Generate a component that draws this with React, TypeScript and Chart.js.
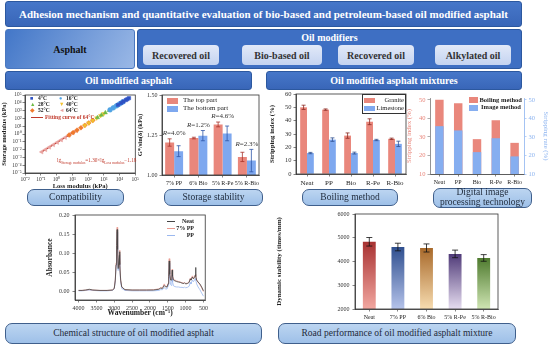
import React, { useEffect, useRef } from "react";
import { Chart, registerables } from "chart.js";
Chart.register(...registerables);

const SERIF = '"Liberation Serif", "Times New Roman", serif';
const RED = "#e9877c";
const BLUE = "#7ea8ef";

// ---------- Compatibility (log10 values) ----------
const tempLabels = ["4°C", "16°C", "28°C", "40°C", "52°C", "64°C"];
const lgLoss4C = [3.9, 4.1, 4.25, 4.4, 4.5, 4.6];
const lgStorage4C = [3.73, 3.97, 4.16, 4.35, 4.47, 4.6];
const lgLoss16C = [3.4, 3.6, 3.8, 4.0, 4.2];
const lgStorage16C = [3.1, 3.35, 3.6, 3.85, 4.1];
const lgLoss28C = [2.6, 2.85, 3.1, 3.35, 3.6, 3.8];
const lgStorage28C = [2.11, 2.42, 2.73, 3.04, 3.35, 3.6];
const lgLoss40C = [1.8, 2.05, 2.3, 2.55, 2.8, 3.0];
const lgStorage40C = [1.11, 1.42, 1.73, 2.05, 2.36, 2.61];
const lgLoss52C = [0.8, 1.05, 1.3, 1.55, 1.8, 2.05, 2.3];
const lgStorage52C = [-0.13, 0.18, 0.49, 0.8, 1.11, 1.42, 1.73];
const lgLoss64C = [-0.94, -0.7, -0.45, -0.2, 0.05, 0.3, 0.55, 0.8, 1.05, 1.25];
const lgStorage64C = [-2.3, -2.0, -1.69, -1.38, -1.07, -0.76, -0.45, -0.13, 0.18, 0.43];
const lgLossFit = [-1.0, 1.4];
const lgStorageFit = [-2.37, 0.62];
const lossDecades = [-2, -1, 0, 1, 2, 3, 4, 5];
const storageDecades = [-5, -4, -3, -2, -1, 0, 1, 2, 3, 4, 5];
const tempColors = ["#2f52c4", "#4fa3e6", "#6dbb45", "#f2c12e", "#f07a2c", "#e9a3a0"];
const tempStyles = ["rect", "circle", "triangle", "triangle", "rectRot", "triangle"];
const tempRot = [0, 0, 0, 180, 0, -90];

// ---------- Storage stability ----------
const stabilityCats = ["7% PP", "6% Bio", "5% R-Pe", "5% R-Bio"];
const topPart = [1.203, 1.231, 1.316, 1.113];
const topErr = [0.023, 0.005, 0.015, 0.029];
const bottomPart = [1.149, 1.246, 1.26, 1.09];
const bottomErr = [0.034, 0.032, 0.046, 0.07];
const segregation = ["4.0%", "1.2%", "4.6%", "2.3%"];
const stabilityTicks = [1.0, 1.25, 1.5];

// ---------- Boiling method ----------
const boilCats = ["Neat", "PP", "Bio", "R-Pe", "R-Bio"];
const granite = [50.0, 48.3, 28.8, 39.2, 26.4];
const graniteErr = [1.6, 0.5, 2.0, 2.2, 0.5];
const limestone = [15.7, 25.8, 15.7, 25.5, 22.6];
const limestoneErr = [0.5, 1.3, 0.7, 0.5, 2.0];
const boilTicks = [0, 10, 20, 30, 40, 50, 60];

// ---------- Digital image ----------
const boilingMethod = [50.0, 48.2, 28.8, 39.0, 26.8];
const imageMethod = [35.8, 33.5, 21.8, 29.3, 19.5];
const digitalTicks = [10, 20, 30, 40, 50];

// ---------- FTIR ----------
const wavenumber = [4000, 3900, 3800, 3700, 3600, 3400, 3200, 3050, 3000, 2970, 2950, 2935, 2920, 2905, 2890, 2870, 2855, 2850, 2840, 2820, 2790, 2700, 2500, 2300, 2100, 1900, 1750, 1700, 1650, 1600, 1560, 1520, 1490, 1475, 1460, 1445, 1420, 1400, 1385, 1376, 1365, 1340, 1300, 1250, 1200, 1150, 1100, 1050, 1030, 1000, 950, 900, 870, 850, 810, 780, 750, 730, 720, 710, 690, 650, 600, 550, 500];
const absNeat = [0.003, 0.003, 0.004, 0.006, 0.004, 0.003, 0.003, 0.004, 0.008, 0.03, 0.07, 0.12, 0.162, 0.11, 0.06, 0.06, 0.095, 0.104, 0.07, 0.03, 0.012, 0.005, 0.004, 0.004, 0.004, 0.004, 0.006, 0.009, 0.008, 0.016, 0.012, 0.012, 0.02, 0.04, 0.08, 0.045, 0.03, 0.03, 0.045, 0.056, 0.04, 0.03, 0.028, 0.026, 0.025, 0.024, 0.022, 0.021, 0.023, 0.02, 0.021, 0.024, 0.033, 0.03, 0.038, 0.033, 0.037, 0.042, 0.063, 0.04, 0.03, 0.025, 0.02, 0.012, 0.002];
const abs7PP = [0.003, 0.003, 0.004, 0.005, 0.004, 0.003, 0.003, 0.004, 0.009, 0.032, 0.075, 0.125, 0.168, 0.115, 0.065, 0.064, 0.1, 0.108, 0.072, 0.03, 0.012, 0.005, 0.004, 0.004, 0.004, 0.005, 0.007, 0.01, 0.01, 0.02, 0.014, 0.013, 0.022, 0.045, 0.086, 0.05, 0.032, 0.032, 0.048, 0.058, 0.042, 0.032, 0.03, 0.028, 0.026, 0.025, 0.023, 0.022, 0.024, 0.021, 0.022, 0.026, 0.035, 0.032, 0.041, 0.035, 0.04, 0.043, 0.045, 0.038, 0.03, 0.024, 0.018, 0.01, 0.0];
const absPP = [0.002, 0.002, 0.003, 0.004, 0.003, 0.002, 0.002, 0.003, 0.007, 0.028, 0.066, 0.115, 0.156, 0.1, 0.055, 0.055, 0.088, 0.097, 0.06, 0.025, 0.008, 0.003, 0.002, 0.002, 0.002, 0.002, 0.003, 0.005, 0.005, 0.01, 0.007, 0.007, 0.015, 0.035, 0.074, 0.035, 0.018, 0.016, 0.032, 0.042, 0.025, 0.015, 0.013, 0.012, 0.012, 0.011, 0.011, 0.01, 0.012, 0.01, 0.011, 0.014, 0.024, 0.02, 0.03, 0.026, 0.03, 0.033, 0.035, 0.03, 0.02, 0.012, 0.005, -0.004, -0.012];
const ftirXTicks = [4000, 3500, 3000, 2500, 2000, 1500, 1000, 500];
const ftirYTicks = [0.0, 0.05, 0.1, 0.15, 0.2];

// ---------- Dynamic stability ----------
const dynCats = ["Neat", "7% PP", "6% Bio", "5% R-Pe", "5% R-Bio"];
const dynStability = [4830, 4610, 4570, 4320, 4150];
const dynErr = [180, 160, 170, 160, 140];
const dynTicks = [2000, 3000, 4000, 5000, 6000];
const dynTopColors = ["#a83232", "#2f4f8f", "#a8692a", "#4f3a78", "#4e7a2e"];
const dynBottomColors = ["#f2a7a0", "#b5c3ea", "#f7dcb0", "#e6ddf0", "#cfe5b3"];

// ---------- helpers ----------
const SUP: Record<string, string> = { "-": "⁻", "0": "⁰", "1": "¹", "2": "²", "3": "³", "4": "⁴", "5": "⁵", "6": "⁶", "7": "⁷", "8": "⁸", "9": "⁹" };
const pow10Label = (v: number) => "10" + String(Math.round(Math.log10(v))).split("").map((c) => SUP[c] || c).join("");
const plain = (v: number) => String(v);
const tf = (size: number) => ({ family: SERIF, size });
const bf = (size: number) => ({ family: SERIF, size, weight: "bold" as const });
const gridTicks = { drawOnChartArea: false, drawTicks: true, tickLength: 2.5, color: "#333", lineWidth: 0.6 };
const border = { display: true, color: "#333", width: 0.8 };
const PADTOP = 9;

const framePlugin = {
  id: "frame",
  afterDraw(chart: any) {
    const { ctx, chartArea } = chart;
    const { left, top, right, bottom } = chartArea;
    ctx.save();
    ctx.strokeStyle = "#333";
    ctx.lineWidth = 0.8;
    ctx.strokeRect(left, top, right - left, bottom - top);
    ctx.restore();
  },
};

function errorBars(errs: (number[] | null)[], colors: string[], cap = 2) {
  return {
    id: "errbars",
    afterDatasetsDraw(chart: any) {
      const ctx = chart.ctx;
      errs.forEach((arr, di) => {
        if (!arr) return;
        const meta = chart.getDatasetMeta(di);
        const ys = chart.scales[meta.yAxisID];
        const data = chart.data.datasets[di].data;
        ctx.save();
        ctx.strokeStyle = colors[di];
        ctx.lineWidth = 0.8;
        meta.data.forEach((el: any, j: number) => {
          const v = data[j];
          const e = arr[j];
          const x = el.x;
          const y1 = ys.getPixelForValue(v + e);
          const y2 = ys.getPixelForValue(v - e);
          ctx.beginPath();
          ctx.moveTo(x, y1);
          ctx.lineTo(x, y2);
          ctx.moveTo(x - cap, y1);
          ctx.lineTo(x + cap, y1);
          ctx.moveTo(x - cap, y2);
          ctx.lineTo(x + cap, y2);
          ctx.stroke();
        });
        ctx.restore();
      });
    },
  };
}

const segregationLabels = {
  id: "segLabels",
  afterDatasetsDraw(chart: any) {
    const ctx = chart.ctx;
    const ys = chart.scales.y;
    const m0 = chart.getDatasetMeta(0);
    const m1 = chart.getDatasetMeta(1);
    ctx.save();
    ctx.fillStyle = "#333";
    ctx.textBaseline = "bottom";
    stabilityCats.forEach((_, j) => {
      const x = (m0.data[j].x + m1.data[j].x) / 2;
      const y = Math.min(ys.getPixelForValue(topPart[j] + topErr[j]), ys.getPixelForValue(bottomPart[j] + bottomErr[j])) - 2;
      const rest = "=" + segregation[j];
      ctx.font = `italic 7px ${SERIF}`;
      const wR = ctx.measureText("R").width;
      ctx.font = `7px ${SERIF}`;
      const wRest = ctx.measureText(rest).width;
      const x0 = x - (wR + wRest) / 2;
      ctx.font = `italic 7px ${SERIF}`;
      ctx.textAlign = "left";
      ctx.fillText("R", x0, y);
      ctx.font = `7px ${SERIF}`;
      ctx.fillText(rest, x0 + wR, y);
    });
    ctx.restore();
  },
};

const fixW = (w: number) => (s: any) => { s.width = w; };
const fixH = (h: number) => (s: any) => { s.height = h; };
const setTicks = (vals: number[]) => (s: any) => { s.ticks = vals.map((value) => ({ value })); };

function buildCompat() {
  const sets = [
    [lgLoss4C, lgStorage4C], [lgLoss16C, lgStorage16C], [lgLoss28C, lgStorage28C],
    [lgLoss40C, lgStorage40C], [lgLoss52C, lgStorage52C], [lgLoss64C, lgStorage64C],
  ];
  const datasets: any[] = sets.map(([xs, ys], i) => ({
    type: "scatter",
    label: tempLabels[i],
    data: xs.map((x, k) => ({ x: Math.pow(10, x), y: Math.pow(10, ys[k]) })),
    pointStyle: tempStyles[i],
    rotation: tempRot[i],
    pointRadius: 2.4,
    backgroundColor: tempColors[i],
    borderColor: tempColors[i],
    borderWidth: 0.5,
  }));
  datasets.push({
    type: "line",
    label: "Fitting curve of 64°C",
    data: lgLossFit.map((x, k) => ({ x: Math.pow(10, x), y: Math.pow(10, lgStorageFit[k]) })),
    borderColor: "#c0392b",
    borderWidth: 1.3,
    pointRadius: 0,
  });
  return {
    type: "scatter",
    data: { datasets },
    plugins: [framePlugin],
    options: {
      responsive: false, animation: false, devicePixelRatio: 1,
      layout: { padding: { top: PADTOP, right: 4, left: 0, bottom: 0 } },
      plugins: { legend: { display: false }, tooltip: { enabled: false } },
      scales: {
        x: {
          type: "logarithmic", min: 0.01, max: 1e5,
          afterBuildTicks: setTicks(lossDecades.map((e) => Math.pow(10, e))),
          afterFit: fixH(17),
          ticks: { callback: (v: number) => pow10Label(v), font: tf(5.5), color: "#333", maxRotation: 0, autoSkip: false, padding: 1 },
          grid: gridTicks, border,
          title: { display: true, text: "Loss modulus (kPa)", font: bf(6.5), color: "#222", padding: 0 },
        },
        y: {
          type: "logarithmic", min: 1e-5, max: 1e5,
          afterBuildTicks: setTicks(storageDecades.map((e) => Math.pow(10, e))),
          afterFit: fixW(25),
          ticks: { callback: (v: number) => pow10Label(v), font: tf(5.3), color: "#333", autoSkip: false, padding: 1 },
          grid: gridTicks, border,
          title: { display: true, text: "Storage modulus (kPa)", font: bf(6.5), color: "#222", padding: 0 },
        },
      },
    },
  };
}

function buildStability() {
  return {
    type: "bar",
    data: {
      labels: stabilityCats,
      datasets: [
        { label: "The top part", data: topPart, backgroundColor: RED, barPercentage: 1, categoryPercentage: 0.74 },
        { label: "The bottom part", data: bottomPart, backgroundColor: BLUE, barPercentage: 1, categoryPercentage: 0.74 },
      ],
    },
    plugins: [framePlugin, errorBars([topErr, bottomErr], ["#a8322a", "#2f57a8"], 2), segregationLabels],
    options: {
      responsive: false, animation: false, devicePixelRatio: 1,
      layout: { padding: { top: PADTOP, right: 6, left: 0, bottom: 0 } },
      plugins: { legend: { display: false }, tooltip: { enabled: false } },
      scales: {
        x: { afterFit: fixH(15), ticks: { font: tf(6), color: "#222", autoSkip: false, maxRotation: 0, padding: 2 }, grid: { ...gridTicks, offset: false }, border },
        y: {
          min: 1.0, max: 1.5, afterBuildTicks: setTicks(stabilityTicks), afterFit: fixW(29),
          ticks: { callback: (v: number) => v.toFixed(2), font: tf(6), color: "#333", padding: 2 },
          grid: gridTicks, border,
          title: { display: true, text: "G*/sin(δ) (kPa)", font: bf(6.5), color: "#222", padding: { top: 3, bottom: 0 } },
        },
      },
    },
  };
}

function buildBoiling() {
  return {
    type: "bar",
    data: {
      labels: boilCats,
      datasets: [
        { label: "Granite", data: granite, backgroundColor: RED, barPercentage: 1, categoryPercentage: 0.62 },
        { label: "Limestone", data: limestone, backgroundColor: BLUE, barPercentage: 1, categoryPercentage: 0.62 },
      ],
    },
    plugins: [framePlugin, errorBars([graniteErr, limestoneErr], ["#8a2a22", "#2f4f8f"], 2)],
    options: {
      responsive: false, animation: false, devicePixelRatio: 1,
      layout: { padding: { top: PADTOP, right: 4, left: 0, bottom: 0 } },
      plugins: { legend: { display: false }, tooltip: { enabled: false } },
      scales: {
        x: { afterFit: fixH(16), ticks: { font: tf(7), color: "#222", autoSkip: false, maxRotation: 0, padding: 2 }, grid: { ...gridTicks, offset: false }, border },
        y: {
          min: 0, max: 60, afterBuildTicks: setTicks(boilTicks), afterFit: fixW(28),
          ticks: { callback: plain, font: tf(6.5), color: "#333", padding: 2 },
          grid: gridTicks, border,
          title: { display: true, text: "Stripping index (%)", font: bf(6.8), color: "#222", padding: 0 },
        },
      },
    },
  };
}

function buildDigital() {
  return {
    type: "bar",
    data: {
      labels: boilCats,
      datasets: [
        { label: "Image method", data: imageMethod, yAxisID: "y2", backgroundColor: "#86aef0", grouped: false, barPercentage: 0.45, categoryPercentage: 1 },
        { label: "Boiling method", data: boilingMethod, yAxisID: "y", backgroundColor: RED, grouped: false, barPercentage: 0.45, categoryPercentage: 1 },
      ],
    },
    options: {
      responsive: false, animation: false, devicePixelRatio: 1,
      layout: { padding: { top: PADTOP, right: 0, left: 0, bottom: 0 } },
      plugins: { legend: { display: false }, tooltip: { enabled: false } },
      scales: {
        x: { afterFit: fixH(16), ticks: { font: tf(6), color: "#222", autoSkip: false, maxRotation: 0, padding: 2 }, grid: { ...gridTicks, offset: false }, border },
        y: {
          position: "left", min: 10, max: 51, afterBuildTicks: setTicks(digitalTicks), afterFit: fixW(25),
          ticks: { callback: plain, font: tf(6.5), color: RED, padding: 2 },
          grid: { ...gridTicks, color: "#777" }, border: { display: true, color: "#777", width: 0.8 },
          title: { display: true, text: "Stripping index (%)", font: tf(6.8), color: RED, padding: 0 },
        },
        y2: {
          position: "right", min: 10, max: 51, afterBuildTicks: setTicks(digitalTicks), afterFit: fixW(26),
          ticks: { callback: plain, font: tf(6.5), color: "#8db4f0", padding: 2 },
          grid: { ...gridTicks, color: "#8db4f0" }, border: { display: true, color: "#8db4f0", width: 0.8 },
          title: { display: true, text: "Stripping rate (%)", font: tf(6.8), color: "#8db4f0", padding: 0 },
        },
      },
    },
  };
}

function buildFtir() {
  const mk = (label: string, ys: number[], color: string) => ({
    label, data: wavenumber.map((w, i) => ({ x: w, y: ys[i] })), borderColor: color, borderWidth: 0.8, pointRadius: 0, tension: 0,
  });
  return {
    type: "line",
    data: { datasets: [mk("Neat", absNeat, "#444"), mk("7% PP", abs7PP, "#e89a90"), mk("PP", absPP, "#9bb8ef")] },
    plugins: [framePlugin],
    options: {
      responsive: false, animation: false, devicePixelRatio: 1,
      layout: { padding: { top: PADTOP, right: 4, left: 0, bottom: 0 } },
      plugins: { legend: { display: false }, tooltip: { enabled: false } },
      scales: {
        x: {
          type: "linear", reverse: true, min: 450, max: 4100,
          afterBuildTicks: setTicks(ftirXTicks), afterFit: fixH(18),
          ticks: { callback: plain, font: tf(6), color: "#333", autoSkip: false, maxRotation: 0, padding: 2 },
          grid: gridTicks, border,
          title: { display: true, text: "Wavenumber (cm⁻¹)", font: bf(7.5), color: "#222", padding: 0 },
        },
        y: {
          min: -0.022, max: 0.2, afterBuildTicks: setTicks(ftirYTicks), afterFit: fixW(35),
          ticks: { callback: (v: number) => v.toFixed(2), font: tf(6), color: "#333", padding: 3 },
          grid: gridTicks, border,
          title: { display: true, text: "Absorbance", font: bf(7.5), color: "#222", padding: { top: 6, bottom: 0 } },
        },
      },
    },
  };
}

function buildDynamic() {
  const bg = (c: any) => {
    const chart = c.chart;
    const area = chart.chartArea;
    const i = c.dataIndex;
    const ys = chart.scales && chart.scales.y;
    if (!area || !ys) return dynTopColors[i];
    const yTop = ys.getPixelForValue(dynStability[i]);
    if (!isFinite(yTop) || !isFinite(area.bottom) || yTop >= area.bottom) return dynTopColors[i];
    const g = chart.ctx.createLinearGradient(0, yTop, 0, area.bottom);
    g.addColorStop(0, dynTopColors[i]);
    g.addColorStop(1, dynBottomColors[i]);
    return g;
  };
  return {
    type: "bar",
    data: { labels: dynCats, datasets: [{ label: "Dynamic stability", data: dynStability, backgroundColor: bg, barPercentage: 0.45, categoryPercentage: 1 }] },
    plugins: [framePlugin, errorBars([dynErr], ["#111"], 3)],
    options: {
      responsive: false, animation: false, devicePixelRatio: 1,
      layout: { padding: { top: PADTOP, right: 6, left: 0, bottom: 0 } },
      plugins: { legend: { display: false }, tooltip: { enabled: false } },
      scales: {
        x: { afterFit: fixH(14), ticks: { font: tf(6), color: "#222", autoSkip: false, maxRotation: 0, padding: 2 }, grid: { ...gridTicks, offset: false }, border },
        y: {
          min: 2000, max: 6000, afterBuildTicks: setTicks(dynTicks), afterFit: fixW(81),
          ticks: { callback: plain, font: tf(6), color: "#333", padding: 3 },
          grid: gridTicks, border,
          title: { display: true, text: "Dynamic stability (times/mm)", font: bf(7), color: "#222", padding: { top: 1, bottom: 0 } },
        },
      },
    },
  };
}

type Box = { left: number; top: number; width: number; height: number };

function ChartCanvas({ box, build }: { box: Box; build: () => any }) {
  const ref = useRef<HTMLCanvasElement | null>(null);
  useEffect(() => {
    if (!ref.current) return;
    const chart = new Chart(ref.current, build());
    return () => chart.destroy();
  }, []);
  return (
    <div style={{ position: "absolute", left: box.left, top: box.top, width: box.width, height: box.height }}>
      <canvas ref={ref} width={box.width} height={box.height} style={{ display: "block" }} />
    </div>
  );
}

const abs = (left: number, top: number, width: number, height: number): React.CSSProperties => ({
  position: "absolute", left, top, width, height, boxSizing: "border-box",
});

const center: React.CSSProperties = { display: "flex", alignItems: "center", justifyContent: "center", whiteSpace: "nowrap" };

function Header({ l, t, w, h, text, size = 10 }: any) {
  return (
    <div style={{ ...abs(l, t, w, h), ...center, background: "linear-gradient(#4677c9,#3966b8)", border: "1px solid #2c589f", borderRadius: 3, color: "#fff", fontWeight: "bold", fontSize: size }}>{text}</div>
  );
}

function Pill({ l, t, w, h, children, size = 9.5 }: any) {
  return (
    <div style={{ ...abs(l, t, w, h), ...center, background: "linear-gradient(#bcd5f1,#9ec0e8)", border: "1px solid #3f5f8c", borderRadius: 7, color: "#1f2a3a", fontSize: size, textAlign: "center", lineHeight: 1 }}>{children}</div>
  );
}

function SubBox({ l, text }: any) {
  return (
    <div style={{ ...abs(l, 45, text === "Bio-based oil" ? 80 : 76, 20), ...center, background: "linear-gradient(#e2e9f8,#c4d3f0)", borderRadius: 4, color: "#333", fontWeight: "bold", fontSize: 10 }}>{text}</div>
  );
}

function Txt({ l, t, children, size = 6, color = "#222", bold = false, align = "left", w }: any) {
  return (
    <div style={{ position: "absolute", left: l, top: t, width: w, fontSize: size, color, fontWeight: bold ? "bold" : "normal", whiteSpace: "nowrap", lineHeight: 1, textAlign: align }}>{children}</div>
  );
}

function Sq({ l, t, w, h, c }: any) {
  return <div style={{ ...abs(l, t, w, h), background: c }} />;
}

export default function App() {
  return (
    <div style={{ position: "fixed", left: 0, top: 0, width: 550, height: 346, background: "#fff", overflow: "hidden", fontFamily: SERIF }}>
      <Header l={5} t={1} w={517} h={26} size={11} text="Adhesion mechanism and quantitative evaluation of bio-based and petroleum-based oil modified asphalt" />

      <div style={{ ...abs(5, 29, 130, 40), ...center, background: "linear-gradient(120deg,#4377c8,#9ab8e6)", border: "1px solid #4a78c0", borderRadius: 3, color: "#111", fontWeight: "bold", fontSize: 10 }}>Asphalt</div>
      <div style={{ ...abs(137, 29, 385, 40), background: "#3e6fc3", border: "1px solid #2c589f", borderRadius: 3 }} />
      <Txt l={137} t={33} w={385} align="center" size={10} bold color="#fff">Oil modifiers</Txt>
      <SubBox l={143} text="Recovered oil" />
      <SubBox l={242} text="Bio-based oil" />
      <SubBox l={338} text="Recovered oil" />
      <SubBox l={435} text="Alkylated oil" />

      <Header l={5} t={71} w={247} h={19} text="Oil modified asphalt" />
      <Header l={266} t={71} w={256} h={19} text="Oil modified asphalt mixtures" />

      {/* charts */}
      <ChartCanvas box={{ left: 0, top: 86, width: 140, height: 104 }} build={buildCompat} />
      <ChartCanvas box={{ left: 133, top: 86, width: 132, height: 104 }} build={buildStability} />
      <ChartCanvas box={{ left: 268, top: 85, width: 142, height: 105 }} build={buildBoiling} />
      <ChartCanvas box={{ left: 405, top: 89, width: 145, height: 101 }} build={buildDigital} />
      <ChartCanvas box={{ left: 40, top: 206, width: 170, height: 112 }} build={buildFtir} />
      <ChartCanvas box={{ left: 274, top: 205, width: 230, height: 118 }} build={buildDynamic} />

      {/* compatibility legend */}
      <Txt l={30} t={95.5} size={5.5} color={tempColors[0]}>■</Txt>
      <Txt l={38} t={95.5} size={5.5} bold>{tempLabels[0]}</Txt>
      <Txt l={59} t={95.5} size={5.5} color={tempColors[1]}>●</Txt>
      <Txt l={66} t={95.5} size={5.5} bold>{tempLabels[1]}</Txt>
      <Txt l={30} t={101.5} size={5.5} color={tempColors[2]}>▲</Txt>
      <Txt l={38} t={101.5} size={5.5} bold>{tempLabels[2]}</Txt>
      <Txt l={59} t={101.5} size={5.5} color={tempColors[3]}>▼</Txt>
      <Txt l={66} t={101.5} size={5.5} bold>{tempLabels[3]}</Txt>
      <Txt l={30} t={108} size={5.5} color={tempColors[4]}>◆</Txt>
      <Txt l={38} t={108} size={5.5} bold>{tempLabels[4]}</Txt>
      <Txt l={59} t={108} size={5.5} color={tempColors[5]}>◄</Txt>
      <Txt l={66} t={108} size={5.5} bold>{tempLabels[5]}</Txt>
      <Sq l={31} t={116.5} w={12} h={1.2} c="#c0392b" />
      <Txt l={45} t={114.5} size={5.5} bold color="#c0392b">Fitting curve of 64°C</Txt>
      <Txt l={57} t={158} size={5.2} color="#c0392b">lg<sub style={{ fontSize: 3.6 }}>Storage modulus</sub>=1.30×lg<sub style={{ fontSize: 3.6 }}>Loss modulus</sub>−1.18</Txt>

      {/* stability legend */}
      <Sq l={167} t={97.5} w={11} h={6} c={RED} />
      <Txt l={183} t={97} size={7}>The top part</Txt>
      <Sq l={167} t={105.5} w={11} h={6} c={BLUE} />
      <Txt l={183} t={105} size={7}>The bottom part</Txt>

      {/* boiling legend */}
      <div style={{ ...abs(362, 94, 44, 19.5), border: "0.8px solid #333" }} />
      <Sq l={364} t={97.5} w={11} h={5} c={RED} />
      <Txt l={376} t={96.5} w={28} align="right" size={6.5}>Granite</Txt>
      <Sq l={364} t={105.5} w={11} h={5} c={BLUE} />
      <Txt l={376} t={104.5} w={28} align="right" size={6.5}>Limestone</Txt>

      {/* digital legend */}
      <Sq l={469} t={97} w={9} h={6} c={RED} />
      <Txt l={479.5} t={96.5} size={6.5} bold>Boiling method</Txt>
      <Sq l={469} t={104.5} w={9} h={6} c="#86aef0" />
      <Txt l={481} t={104} size={6.5} bold>Image method</Txt>

      {/* ftir legend */}
      <Sq l={167} t={220.5} w={8} h={0.9} c="#444" />
      <Txt l={170} t={218} w={24} align="right" size={6} bold>Neat</Txt>
      <Sq l={167} t={227.5} w={8} h={0.9} c="#e89a90" />
      <Txt l={170} t={225} w={24} align="right" size={6} bold>7% PP</Txt>
      <Sq l={167} t={234.5} w={8} h={0.9} c="#9bb8ef" />
      <Txt l={170} t={232} w={24} align="right" size={6} bold>PP</Txt>

      {/* caption pills */}
      <Pill l={27} t={189} w={97} h={17}>Compatibility</Pill>
      <Pill l={164} t={189} w={99} h={17}>Storage stability</Pill>
      <Pill l={302} t={189} w={96} h={17}>Boiling method</Pill>
      <Pill l={433} t={187.5} w={99} h={20}><span>Digital image<br />processing technology</span></Pill>
      <Pill l={5} t={323} w={257} h={21}>Chemical structure of oil modified asphalt</Pill>
      <Pill l={278} t={323} w={238} h={21}>Road performance of oil modified asphalt mixture</Pill>
    </div>
  );
}
